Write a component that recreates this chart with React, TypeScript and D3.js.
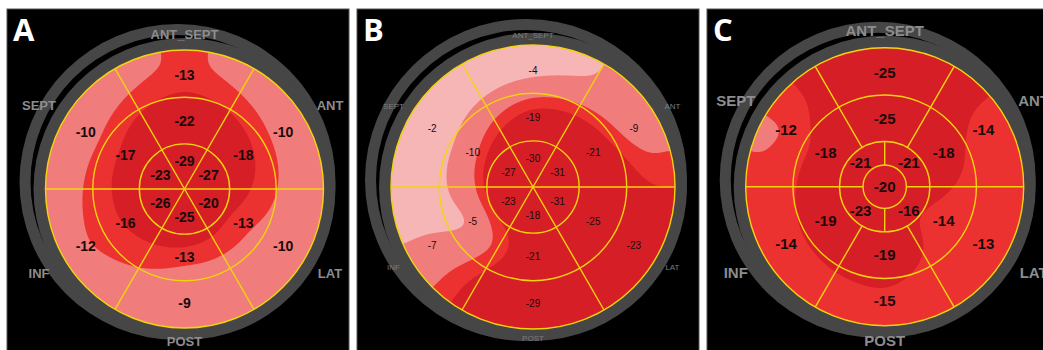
import * as d3 from "d3";
import { useEffect, useRef } from "react";

// bull's-eye segment names, clockwise from the top
const regions = ["ANT_SEPT", "ANT", "LAT", "POST", "INF", "SEPT"];
const letters = ["A", "B", "C"];

// panel A (18 segments)
const basalA = [-13, -10, -10, -9, -12, -10];
const midA = [-22, -18, -13, -13, -16, -17];
const apicalA = [-29, -27, -20, -25, -26, -23];

// panel B (18 segments)
const basalB = [-4, -9, -23, -29, -7, -2];
const midB = [-19, -21, -25, -21, -5, -10];
const apicalB = [-30, -31, -31, -18, -23, -27];

// panel C (17 segments): apical ring has 4 segments, clockwise from top-right
const basalC = [-25, -14, -13, -15, -14, -12];
const midC = [-25, -18, -14, -19, -19, -18];
const apicalC = [-21, -16, -23, -21];
const apexC = [-20];

// strain colour bands (magnitude of strain)
const strainThresholds = [6.5, 12.5, 16];
const strainColors = ["#f6b6b6", "#f07c7c", "#ec3131", "#d51e26"];

const panels = [
  { basal: basalA, mid: midA, apical: apicalA, apex: null },
  { basal: basalB, mid: midB, apical: apicalB, apex: null },
  { basal: basalC, mid: midC, apical: apicalC, apex: apexC },
];

const layout = [
  { x: 7, w: 342, cx: 184.5, cy: 189, R: 139, valSize: 14, valWeight: "bold", dirSize: 13, dirWeight: "bold", dirColor: "#8d8d8d", rTop: 155, rBottom: 152, rSide: 168 },
  { x: 357, w: 342, cx: 533, cy: 187, R: 142, valSize: 10, valWeight: "normal", dirSize: 8, dirWeight: "normal", dirColor: "#7d7d7d", rTop: 152, rBottom: 151, rSide: 161 },
  { x: 707, w: 340, cx: 884.7, cy: 186.7, R: 139, valSize: 15, valWeight: "bold", dirSize: 15, dirWeight: "bold", dirColor: "#8d8d8d", rTop: 156.5, rBottom: 154, rSide: 172 },
];

// interpolate a ring of segment values around the angle phi (deg, clockwise from top)
function ringValue(vals, offset, phi) {
  const n = vals.length;
  const step = 360 / n;
  let t = (phi - offset) / step;
  t = ((t % n) + n) % n;
  const k = Math.floor(t);
  const f = t - k;
  return vals[k] * (1 - f) + vals[(k + 1) % n] * f;
}

function makeControls(p) {
  if (p.apex) {
    return [
      { r: 0, f: () => p.apex[0] },
      { r: 0.09, f: () => p.apex[0] },
      { r: 0.245, f: (phi) => ringValue(p.apical, 45, phi) },
      { r: 0.49, f: (phi) => ringValue(p.mid, 0, phi) },
      { r: 0.82, f: (phi) => ringValue(p.basal, 0, phi) },
    ];
  }
  const m = d3.mean(p.apical);
  return [
    { r: 0, f: () => m },
    { r: 0.2, f: (phi) => ringValue(p.apical, 0, phi) },
    { r: 0.49, f: (phi) => ringValue(p.mid, 0, phi) },
    { r: 0.82, f: (phi) => ringValue(p.basal, 0, phi) },
  ];
}

function fieldAt(controls, rho, phi) {
  const last = controls[controls.length - 1];
  if (rho >= last.r) return last.f(phi);
  for (let i = 0; i < controls.length - 1; i++) {
    const a = controls[i], b = controls[i + 1];
    if (rho <= b.r) {
      const t = (rho - a.r) / (b.r - a.r);
      return a.f(phi) * (1 - t) + b.f(phi) * t;
    }
  }
  return last.f(phi);
}

export default function App() {
  const ref = useRef(null);

  useEffect(() => {
    const svg = d3.select(ref.current);
    svg.selectAll("*").remove();
    const color = d3.scaleThreshold().domain(strainThresholds).range(strainColors);
    const defs = svg.append("defs");

    panels.forEach((p, idx) => {
      const L = layout[idx];
      const { cx, cy, R } = L;
      const rs = d3.scaleLinear().domain([0, 1]).range([0, R]);
      const g = svg.append("g");

      g.append("rect")
        .attr("x", L.x)
        .attr("y", 9)
        .attr("width", L.w)
        .attr("height", 345)
        .attr("fill", "#000")
        .attr("stroke", "#555")
        .attr("stroke-width", 1);

      // grey double ring behind the plot
      const ring = d3.arc();
      g.append("path")
        .attr("transform", `translate(${cx - 7},${cy - 7})`)
        .attr("d", ring({ innerRadius: R + 8, outerRadius: R + 19, startAngle: 0, endAngle: 2 * Math.PI }))
        .attr("fill", "#464646");
      g.append("path")
        .attr("transform", `translate(${cx},${cy})`)
        .attr("d", ring({ innerRadius: R - 1, outerRadius: R + 12, startAngle: 0, endAngle: 2 * Math.PI }))
        .attr("fill", "#464646");

      // smoothed strain map
      defs.append("clipPath").attr("id", `clip${idx}`)
        .append("circle").attr("cx", cx).attr("cy", cy).attr("r", R);

      const controls = makeControls(p);
      const n = Math.ceil(2 * R) + 1;
      const values = new Float64Array(n * n);
      for (let j = 0; j < n; j++) {
        for (let i = 0; i < n; i++) {
          const x = i - R, y = j - R;
          const rho = Math.min(Math.hypot(x, y) / R, 1);
          let phi = (Math.atan2(x, -y) * 180) / Math.PI;
          if (phi < 0) phi += 360;
          values[j * n + i] = -fieldAt(controls, rho, phi);
        }
      }
      d3.blur2({ data: values, width: n, height: n }, 9);
      const contours = d3.contours().size([n, n]).thresholds(strainThresholds)(values);
      const map = g.append("g").attr("clip-path", `url(#clip${idx})`);
      map.append("circle").attr("cx", cx).attr("cy", cy).attr("r", R).attr("fill", color(0));
      map.append("g")
        .attr("transform", `translate(${cx - R - 0.5},${cy - R - 0.5})`)
        .selectAll("path")
        .data(contours)
        .join("path")
        .attr("d", d3.geoPath())
        .attr("fill", (d) => color(d.value));

      // yellow segment grid
      const lines = g.append("g").attr("stroke", "#f3d40b").attr("stroke-width", 1.4).attr("fill", "none");
      const rings = p.apex ? [0.156, 0.325, 0.66, 1] : [0.325, 0.66, 1];
      lines.selectAll("circle").data(rings).join("circle")
        .attr("cx", cx).attr("cy", cy).attr("r", (d) => rs(d));
      const spokes = [];
      d3.range(6).forEach((k) => {
        const phi = 30 + 60 * k;
        const horizontal = phi === 90 || phi === 270;
        const r0 = p.apex ? (horizontal ? 0.156 : 0.325) : 0;
        spokes.push({ phi, r0, r1: 1 });
      });
      if (p.apex) {
        spokes.push({ phi: 0, r0: 0.156, r1: 0.325 });
        spokes.push({ phi: 180, r0: 0.156, r1: 0.325 });
      }
      const px = (phi, r) => cx + rs(r) * Math.sin((phi * Math.PI) / 180);
      const py = (phi, r) => cy - rs(r) * Math.cos((phi * Math.PI) / 180);
      lines.selectAll("line").data(spokes).join("line")
        .attr("x1", (d) => px(d.phi, d.r0)).attr("y1", (d) => py(d.phi, d.r0))
        .attr("x2", (d) => px(d.phi, d.r1)).attr("y2", (d) => py(d.phi, d.r1));

      // segment values
      const labels = [];
      p.basal.forEach((v, k) => labels.push({ v, phi: 60 * k, r: 0.82 }));
      p.mid.forEach((v, k) => labels.push({ v, phi: 60 * k, r: 0.49 }));
      if (p.apex) {
        p.apical.forEach((v, k) => labels.push({ v, phi: 45 + 90 * k, r: 0.245 }));
        labels.push({ v: p.apex[0], phi: 0, r: 0 });
      } else {
        p.apical.forEach((v, k) => labels.push({ v, phi: 60 * k, r: 0.2 }));
      }
      g.append("g").selectAll("text").data(labels).join("text")
        .attr("x", (d) => px(d.phi, d.r))
        .attr("y", (d) => py(d.phi, d.r))
        .attr("dy", "0.36em")
        .attr("text-anchor", "middle")
        .style("font-family", "'Liberation Sans', Arial, sans-serif")
        .style("font-size", `${L.valSize}px`)
        .style("font-weight", L.valWeight)
        .attr("fill", "#1a0a0a")
        .text((d) => d.v);

      // wall names
      const dirR = (k) => (k === 0 ? L.rTop : k === 3 ? L.rBottom : L.rSide);
      g.append("g").selectAll("text").data(regions).join("text")
        .attr("x", (d, k) => cx + dirR(k) * Math.sin((60 * k * Math.PI) / 180))
        .attr("y", (d, k) => cy - dirR(k) * Math.cos((60 * k * Math.PI) / 180))
        .attr("dy", "0.36em")
        .attr("text-anchor", "middle")
        .style("font-family", "'Liberation Sans', Arial, sans-serif")
        .style("font-size", `${L.dirSize}px`)
        .style("font-weight", L.dirWeight)
        .attr("fill", L.dirColor)
        .text((d) => d);

      g.append("text")
        .attr("x", L.x + 6)
        .attr("y", 41)
        .style("font-family", "'Open Sans', sans-serif")
        .style("font-size", "31px")
        .style("font-weight", 700)
        .attr("fill", "#fff")
        .text(letters[idx]);
    });
  }, []);

  return (
    <svg
      ref={ref}
      width={1043}
      height={350}
      style={{ position: "absolute", left: 0, top: 0, background: "#fff", display: "block" }}
    />
  );
}
